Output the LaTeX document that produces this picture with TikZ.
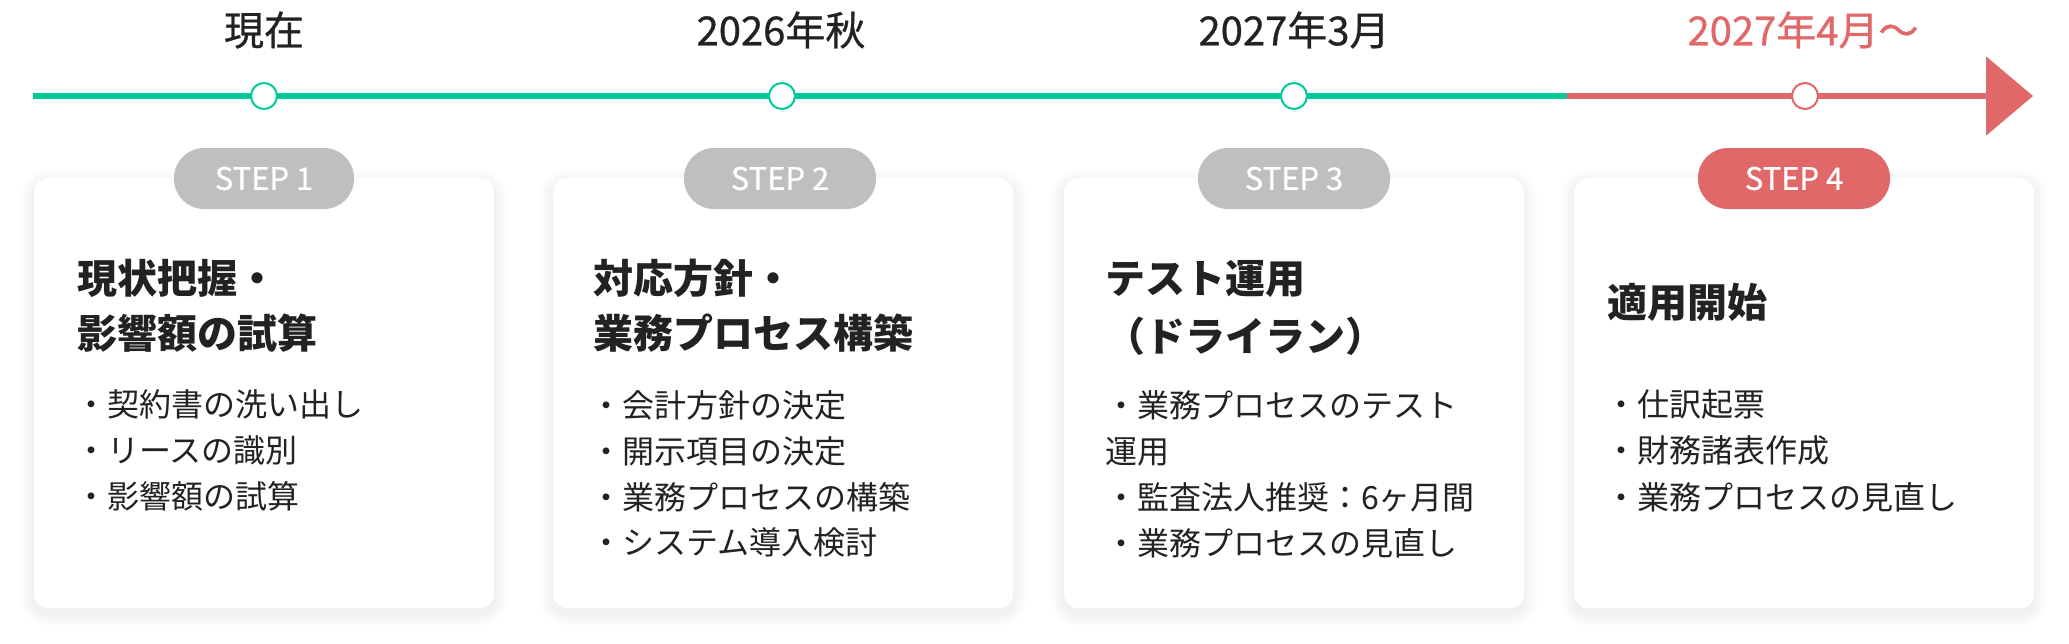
\documentclass[tikz,border=0pt]{standalone}
\usepackage{fontspec}
\setmainfont{Noto Sans CJK JP}
\newfontfamily\medjp{Noto Sans CJK JP}[FakeBold=0.7]
\usetikzlibrary{arrows.meta}
\definecolor{tgreen}{HTML}{00C99A}
\definecolor{tred}{HTML}{E06868}
\definecolor{pgray}{HTML}{BFBFBF}
\definecolor{ink}{HTML}{222222}
\tikzset{
  datelbl/.style={font=\medjp\fontsize{40}{48}\selectfont, text=ink, inner sep=0pt},
  tdot/.style={circle, fill=white, draw=tgreen, line width=2pt, minimum size=26pt, inner sep=0pt},
  card/.style={fill=white, rounded corners=14pt, minimum width=460pt, minimum height=430pt, anchor=north west, inner sep=0pt},
  pill/.style={fill=pgray, rounded corners=30pt, minimum height=61pt, minimum width=192pt, text=white, font=\medjp\fontsize{31}{36}\selectfont, inner sep=0pt},
  ttl/.style={font=\fontsize{40}{48}\selectfont\bfseries, text=ink, anchor=west, inner sep=0pt},
  item/.style={font=\fontsize{32}{40}\selectfont, text=ink, anchor=west, inner sep=0pt},
  tline/.style={line width=6pt},
}
\begin{document}
\begin{tikzpicture}[x=1pt,y=-1pt]
\useasboundingbox (0,0) rectangle (2069,643);
\fill[white] (0,0) rectangle (2069,643);

% timeline
\coordinate (ls) at (33,96);
\coordinate (lg) at (1567,96);
\coordinate (le) at (2033,96);
\draw[tline, tgreen] (ls) -- (lg);
\draw[tline, tred, -{Triangle[length=47pt,width=78pt]}] (lg) -- (le);
\node[tdot] (t1) at (264,96) {};
\node[tdot] (t2) at (782,96) {};
\node[tdot] (t3) at (1294,96) {};
\node[tdot, draw=tred] (t4) at (1805,96) {};
\node[datelbl] (d1) at (264,30) {現在};
\node[datelbl] (d2) at (781,30) {2026年秋};
\node[datelbl] (d3) at (1294,30) {2027年3月};
\node[datelbl, text=tred] (d4) at (1803,30) {2027年4月〜};

% shadows
\foreach \cx in {34,553,1064,1574} {
  \foreach \i in {1,...,14} {
    \fill[black, opacity=0.005, rounded corners={(14+\i)*1pt}] (\cx-\i, 178-\i+5) rectangle (\cx+460+\i, 608+\i+5);
  }
}

% cards
\node[card] (c1) at (34,178) {};
\node[card] (c2) at (553,178) {};
\node[card] (c3) at (1064,178) {};
\node[card] (c4) at (1574,178) {};

% pills
\node[pill, minimum width=180pt] (p1) at (264,178.5) {STEP 1};
\node[pill] (p2) at (780,178.5) {STEP 2};
\node[pill] (p3) at (1294,178.5) {STEP 3};
\node[pill, fill=tred] (p4) at (1794,178.5) {STEP 4};

% card 1
\node[ttl] (h1a) at (77,278) {現状把握・};
\node[ttl] (h1b) at (77,333) {影響額の試算};
\node[item] (i1a) at (75,404) {・契約書の洗い出し};
\node[item] (i1b) at (75,450) {・リースの識別};
\node[item] (i1c) at (75,496) {・影響額の試算};

% card 2
\node[ttl] (h2a) at (593,278) {対応方針・};
\node[ttl] (h2b) at (593,333) {業務プロセス構築};
\node[item] (i2a) at (590,405) {・会計方針の決定};
\node[item] (i2b) at (590,451) {・開示項目の決定};
\node[item] (i2c) at (590,497) {・業務プロセスの構築};
\node[item] (i2d) at (590,542) {・システム導入検討};

% card 3
\node[ttl] (h3a) at (1105,279) {テスト運用};
\node[ttl] (h3b) at (1105,336) {（ドライラン）};
\node[item] (i3a) at (1105,405) {・業務プロセスのテスト};
\node[item] (i3b) at (1105,452) {運用};
\node[item] (i3c) at (1105,497) {・監査法人推奨：6ヶ月間};
\node[item] (i3d) at (1105,543) {・業務プロセスの見直し};

% card 4
\node[ttl] (h4a) at (1607,302) {適用開始};
\node[item] (i4a) at (1605,404) {・仕訳起票};
\node[item] (i4b) at (1605,450) {・財務諸表作成};
\node[item] (i4c) at (1605,497) {・業務プロセスの見直し};
\end{tikzpicture}
\end{document}
